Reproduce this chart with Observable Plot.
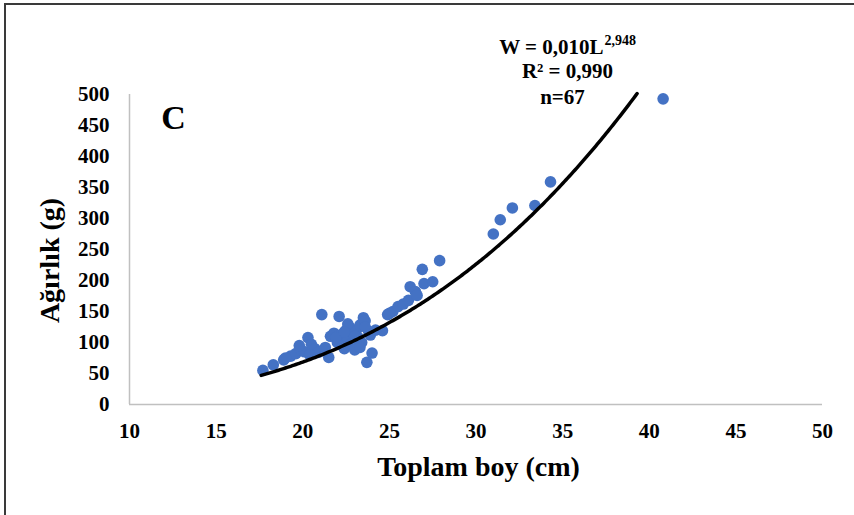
<!DOCTYPE html>
<html>
<head>
<meta charset="utf-8">
<script src="https://cdn.jsdelivr.net/npm/d3@7"></script>
<script src="https://cdn.jsdelivr.net/npm/@observablehq/plot@0.6"></script>
<style>
  html, body { margin: 0; padding: 0; background: #fff; }
  #wrap { position: relative; width: 854px; height: 515px; overflow: hidden; }
  #border { position: absolute; left: 4px; top: 3px; width: 900px; height: 600px;
            border-top: 2px solid #3a3a3a; border-left: 2px solid #3a3a3a; pointer-events: none; }
</style>
</head>
<body>
<div id="wrap"><div id="border"></div></div>
<script>
// Observed fish: total length (cm) and weight (g)
const lengths = [17.7, 18.3, 18.9, 19.3, 19.6, 19.9, 20.1, 20.3, 20.5, 20.7,
  20.9, 21.1, 21.5, 21.6, 21.8, 22.0, 22.1, 22.2, 22.3, 22.4,
  22.5, 22.6, 22.7, 22.8, 22.9, 23.0, 23.1, 23.2, 23.3, 23.4,
  23.5, 23.6, 23.7, 23.8, 24.0, 23.9, 24.6, 24.9, 25.2, 25.5,
  25.8, 26.1, 26.2, 26.5, 26.6, 26.9, 27.0, 27.5, 27.9, 31.0,
  31.4, 32.1, 33.4, 34.3, 40.8, 19.0, 19.8, 20.4, 21.3, 21.9,
  22.6, 23.0, 23.3, 23.6, 24.2, 25.0, 22.4];
const weights = [55, 64, 72, 78, 82, 88, 85, 108, 97, 90,
  84, 145, 76, 110, 115, 100, 142, 112, 95, 90,
  120, 105, 125, 98, 115, 88, 120, 108, 128, 100,
  140, 135, 68, 118, 83, 112, 119, 145, 150, 158,
  162, 168, 190, 182, 176, 218, 195, 198, 232, 275,
  298, 317, 321, 359, 493, 75, 95, 80, 92, 108,
  130, 110, 92, 125, 120, 147, 117];

// Fitted power model shown on the chart: W = a * L^b
const fitA = 0.010;
const fitB = 2.948;
const fitRange = [17.6, 39.3];

const xTicks = [10, 15, 20, 25, 30, 35, 40, 45, 50];
const yTicks = [0, 50, 100, 150, 200, 250, 300, 350, 400, 450, 500];

const points = lengths.map((L, i) => ({L, W: weights[i]}));
const curve = d3.range(fitRange[0], fitRange[1] + 0.001, 0.1).map(L => ({L, W: fitA * Math.pow(L, fitB)}));

const serif = "'Liberation Serif', 'Times New Roman', serif";
const txt = {fontWeight: "bold", fill: "#000", frameAnchor: "top-left", textAnchor: "middle", lineAnchor: "middle"};

const chart = Plot.plot({
  width: 854,
  height: 515,
  marginLeft: 129,
  marginRight: 32,
  marginTop: 94,
  marginBottom: 111,
  style: {fontFamily: serif, fontWeight: "bold", fontSize: "21px", color: "#000", background: "transparent"},
  x: {domain: [10, 50]},
  y: {domain: [0, 500]},
  marks: [
    Plot.axisY({ticks: yTicks, tickSize: 0, tickPadding: 20, label: null, fontSize: 21, fontWeight: "bold"}),
    Plot.axisX({ticks: xTicks, tickSize: 0, tickPadding: 19, label: null, fontSize: 21, fontWeight: "bold"}),
    Plot.ruleX([10], {stroke: "#c0c0c0", strokeWidth: 1.5}),
    Plot.ruleY([0], {stroke: "#c0c0c0", strokeWidth: 1.5}),
    Plot.dot(points, {x: "L", y: "W", r: 5.8, fill: "#4472C4", stroke: "none"}),
    Plot.line(curve, {x: "L", y: "W", stroke: "#000", strokeWidth: 3.5, curve: "linear"}),
    Plot.text(["Toplam boy (cm)"], {...txt, dx: 349, dy: 373, fontSize: 28}),
    Plot.text(["Ağırlık (g)"], {...txt, dx: -79, dy: 166, rotate: -90, fontSize: 28}),
    Plot.text(["C"], {...txt, dx: 44, dy: 24, fontSize: 34}),
    Plot.text(["W = 0,010L"], {...txt, textAnchor: "end", dx: 474, dy: -47, fontSize: 21}),
    Plot.text(["2,948"], {...txt, textAnchor: "start", dx: 475, dy: -54, fontSize: 14}),
    Plot.text(["R² = 0,990"], {...txt, dx: 438, dy: -23, fontSize: 21}),
    Plot.text(["n=67"], {...txt, dx: 433, dy: 3, fontSize: 21})
  ]
});
chart.style.position = "absolute";
chart.style.left = "0px";
chart.style.top = "0px";
document.getElementById("wrap").appendChild(chart);
</script>
</body>
</html>
